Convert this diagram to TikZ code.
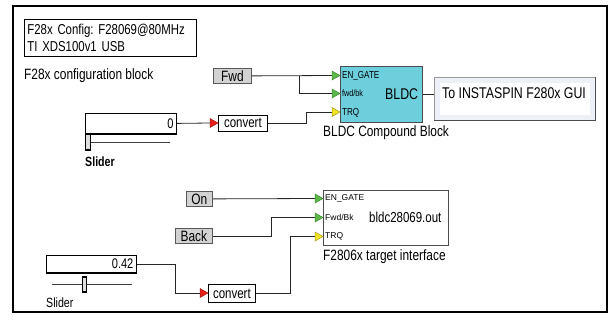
\documentclass[tikz,border=0pt]{standalone}
\usepackage{fontspec}
\setmainfont{Liberation Sans}[Scale=1.07,FakeStretch=0.795]
\newfontfamily\widefont{Liberation Sans}
\frenchspacing
\definecolor{bldccyan}{HTML}{6ECFDC}
\definecolor{portgreen}{HTML}{5CB84A}
\definecolor{portgreenD}{HTML}{3C8A30}
\definecolor{portyellow}{HTML}{F0E424}
\definecolor{portyellowD}{HTML}{A89C10}
\definecolor{portred}{HTML}{E8201A}
\definecolor{btngray}{HTML}{D2D2D2}
\definecolor{guifill}{HTML}{EDF1F7}
\newcommand{\porttri}[3]{\filldraw[fill=#2,draw=#3,line width=0.5pt] (#1) ++(0,-4.5) -- ++(8,4.5) -- ++(-8,4.5) -- cycle;}
\begin{document}
\begin{tikzpicture}[x=1pt,y=-1pt,
  txt/.style={inner sep=0pt,anchor=west},
  big/.style={font=\fontsize{14}{16}\selectfont},
  btn/.style={draw=gray!70!black,fill=btngray,line width=0.8pt,inner sep=0pt,anchor=north west,font=\fontsize{14}{16}\selectfont},
  plainbox/.style={draw=black,fill=white,line width=0.8pt,inner sep=0pt,anchor=north west},
  wire/.style={draw=black!85,line width=0.8pt},
  plbl/.style={inner sep=0pt,anchor=west,font=\fontsize{9.5}{11}\selectfont},
  tlbl/.style={inner sep=0pt,anchor=west,font=\widefont\fontsize{8.5}{10}\selectfont}
]
\useasboundingbox (0,0) rectangle (615,321);
\draw[line width=1.6pt] (13,6) rectangle (607,312);

% config block
\node[plainbox,minimum width=172pt,minimum height=37pt,text width=166pt,inner xsep=3pt,align=left,
  font=\fontsize{13.4}{17.5}\selectfont] (cfg) at (24,19) {F28x Config: F28069@80MHz\\TI XDS100v1 USB};
\node[txt,big] (cfglbl) at (24,76) {F28x configuration block};

% Fwd button
\node[btn,minimum width=38pt,minimum height=15pt] (fwd) at (213,68) {Fwd};

% BLDC block
\node[draw=black!70,fill=bldccyan,line width=0.8pt,inner sep=0pt,anchor=north west,
  minimum width=82pt,minimum height=56pt] (bldc) at (340,66) {};
\node[txt,font=\fontsize{14.5}{16}\selectfont] (bldclbl) at (385,94) {BLDC};
\node[txt,big] (bldcname) at (323,133) {BLDC Compound Block};
\coordinate (b1) at (332,75.5);
\coordinate (b2) at (332,93.5);
\coordinate (b3) at (332,112);
\node[plbl] (b1l) at (342,75.5) {EN\_GATE};
\node[plbl,font=\fontsize{8.5}{10}\selectfont] (b2l) at (342,93.5) {fwd/bk};
\node[plbl] (b3l) at (342,113) {TRQ};

% GUI box
\node[draw=gray!80,fill=guifill,line width=0.8pt,inner sep=0pt,anchor=north west,
  minimum width=161pt,minimum height=43pt] (gui) at (434,77) {};
\fill[white] (440,83) rectangle (590,115);
\draw[gray!60!black,line width=1.2pt] (gui.south west) -- (gui.south east) -- (gui.north east);
\node[txt,font=\fontsize{14.5}{16}\selectfont] (guilbl) at (442,93) {To INSTASPIN F280x GUI};

% slider 1
\node[plainbox,minimum width=91pt,minimum height=20pt,text width=85pt,inner xsep=3pt,align=right,
  font=\fontsize{13}{15}\selectfont] (s1) at (85,113) {0};
\draw[line width=2pt] (s1.south west) -- (s1.south east);
\draw[black!75,line width=0.8pt] (91,142) -- (170,142);
\draw[line width=1.3pt,fill=gray!25] (85.5,134) rectangle (90.5,150);
\node[txt,font=\bfseries\fontsize{12.5}{14}\selectfont] (s1lbl) at (85,162) {Slider};

% convert 1
\node[plainbox,minimum width=49pt,minimum height=16pt,font=\fontsize{13.5}{15}\selectfont] (c1) at (218,115) {convert};
\coordinate (a1) at (210,123);

% wires top
\draw[wire] (fwd.east) -- (b1);
\coordinate (j1) at (299,75.5);
\draw[wire] (j1) |- (b2);
\draw[wire] (s1.east) -- (a1);
\draw[wire] (c1.east) -- ++(39,0) |- (b3);
\draw[wire] (bldc.east) -- (bldc.east -| gui.west);

\porttri{b1}{portgreen}{portgreenD}
\porttri{b2}{portgreen}{portgreenD}
\porttri{b3}{portyellow}{portyellowD}
\porttri{a1}{portred}{portred!70!black}

% bottom section
\node[btn,minimum width=26pt,minimum height=15pt] (on) at (186,191) {On};
\node[btn,minimum width=37pt,minimum height=15pt] (back) at (175,228) {Back};

\node[draw=black!70,fill=white,line width=0.8pt,inner sep=0pt,anchor=north west,
  minimum width=125pt,minimum height=55pt] (tgt) at (323,190) {};
\node[txt,font=\fontsize{13.5}{15}\selectfont] (tgtlbl) at (369,217.5) {bldc28069.out};
\node[txt,big] (tgtname) at (323,257) {F2806x target interface};
\coordinate (t1) at (315,198.5);
\coordinate (t2) at (315,217.5);
\coordinate (t3) at (315,236.5);
\node[tlbl] (t1l) at (325,198.5) {EN\_GATE};
\node[tlbl] (t2l) at (325,217.5) {Fwd/Bk};
\node[tlbl] (t3l) at (325,236.5) {TRQ};

% slider 2
\node[plainbox,minimum width=90pt,minimum height=17pt,text width=84pt,inner xsep=3pt,align=right,
  font=\fontsize{13}{15}\selectfont] (s2) at (46,255) {0.42};
\draw[line width=2pt] (s2.south west) -- (s2.south east);
\draw[black!75,line width=0.8pt] (52,284) -- (132,284);
\draw[line width=1.3pt,fill=gray!25] (82.5,277) rectangle (86.5,292);
\node[txt,font=\fontsize{12.5}{14}\selectfont] (s2lbl) at (46,303) {Slider};

% convert 2
\node[plainbox,minimum width=47pt,minimum height=18pt,font=\fontsize{13.5}{15}\selectfont] (c2) at (208,284) {convert};
\coordinate (a2) at (200,293);

\draw[wire] (on.east) -- (t1);
\draw[wire] (back.east) -- ++(59,0) |- (t2);
\draw[wire] (s2.east) -- ++(39,0) |- (a2);
\draw[wire] (c2.east) -- ++(35,0) |- (t3);

\porttri{t1}{portgreen}{portgreenD}
\porttri{t2}{portgreen}{portgreenD}
\porttri{t3}{portyellow}{portyellowD}
\porttri{a2}{portred}{portred!70!black}
\end{tikzpicture}
\end{document}
